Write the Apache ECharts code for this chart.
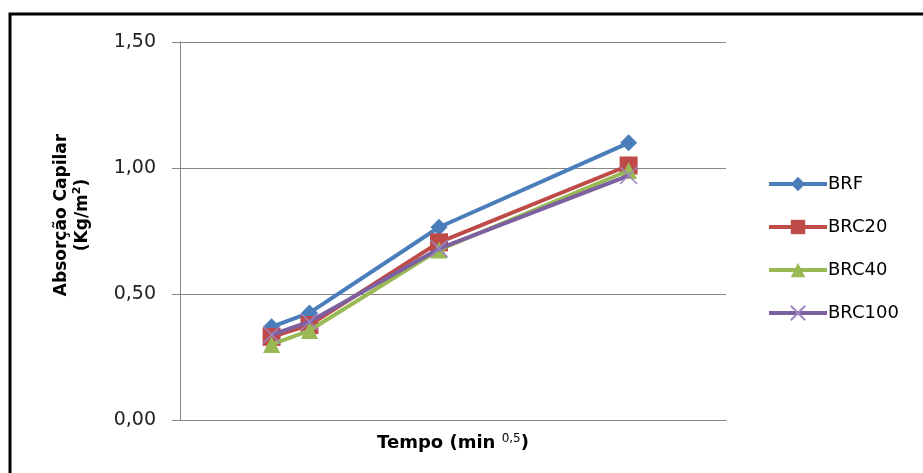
<!DOCTYPE html>
<html><head><meta charset="utf-8">
<script src="https://cdn.jsdelivr.net/npm/echarts@6/dist/echarts.min.js"></script>
<style>html,body{margin:0;padding:0;background:#fff}#c{width:923px;height:473px}</style>
</head><body><div id="c"></div>
<script>
const tempo = [13.42, 18.97, 37.95, 65.73];
const seriesNames = ['BRF', 'BRC20', 'BRC40', 'BRC100'];
const brf = [0.37, 0.425, 0.765, 1.10];
const brc20 = [0.33, 0.377, 0.705, 1.01];
const brc40 = [0.30, 0.355, 0.675, 0.99];
const brc100 = [0.338, 0.39, 0.68, 0.97];
const yTicks = ['0,00', '0,50', '1,00', '1,50'];

const colors = ['#4A7EBB', '#BE4B48', '#98B954', '#7D60A0'];
const symbols = ['diamond', 'rect', 'triangle', 'path://M0,0L10,10M10,0L0,10'];
const symSizes = [17, 18, 17, 17];
const vals = [brf, brc20, brc40, brc100];

const chart = echarts.init(document.getElementById('c'));
const font = 'DejaVu Sans';
chart.setOption({
  animation: false,
  color: colors,
  textStyle: {fontFamily: font},
  grid: {left: 180, right: 197, top: 42, bottom: 53},
  graphic: [{
    type: 'rect', shape: {x: 10, y: 14, width: 1000, height: 1000},
    style: {fill: 'none', stroke: '#000', lineWidth: 3}, silent: true
  }, {
    type: 'text', x: 72, y: 215, rotation: Math.PI / 2, silent: true,
    style: {
      text: '{b|Absorção Capilar}\n{b|(Kg/m}{s|2}{b|)}',
      align: 'center', verticalAlign: 'middle',
      rich: {
        b: {fontSize: 17, fontWeight: 'bold', fill: '#000', fontFamily: font, lineHeight: 21},
        s: {fontSize: 11, fontWeight: 'bold', fill: '#000', fontFamily: font, verticalAlign: 'top', lineHeight: 21}
      }
    }
  }],
  legend: {
    orient: 'vertical', left: 762, top: 170, itemGap: 25, itemWidth: 58, itemHeight: 18,
    data: seriesNames,
    lineStyle: {width: 4},
    textStyle: {fontSize: 18, color: '#000', fontFamily: font, padding: [0, 0, 0, -4]}
  },
  xAxis: {
    type: 'value', min: 0, max: 80,
    axisLine: {show: true, onZero: false, lineStyle: {color: '#868686', width: 1}},
    axisTick: {show: false}, axisLabel: {show: false}, splitLine: {show: false},
    name: '{b|Tempo (min }{s|0,5}{b|)}', nameLocation: 'middle', nameGap: 13,
    nameTextStyle: {
      rich: {
        b: {fontSize: 18, fontWeight: 'bold', color: '#000', fontFamily: font},
        s: {fontSize: 12, color: '#000', fontFamily: font, verticalAlign: 'top', padding: [0, 0, 8, 0]}
      }
    }
  },
  yAxis: {
    type: 'value', min: 0, max: 1.5, interval: 0.5,
    axisLine: {show: true, lineStyle: {color: '#868686', width: 1}},
    axisTick: {show: true, length: 8, lineStyle: {color: '#868686'}},
    splitLine: {show: true, lineStyle: {color: '#868686', width: 1}},
    axisLabel: {
      fontSize: 19, color: '#222', margin: 24, fontFamily: font,
      formatter: function (v) { return yTicks[Math.round(v / 0.5)]; }
    }
  },
  series: seriesNames.map((n, i) => ({
    name: n, type: 'line',
    data: tempo.map((t, j) => [t, vals[i][j]]),
    symbol: symbols[i], symbolSize: symSizes[i],
    lineStyle: {width: 4, color: colors[i]},
    itemStyle: i === 3 ? {color: colors[i], borderColor: '#9C85C0', borderWidth: 1.5} : {color: colors[i]},
    z: 2 + i
  }))
});
</script></body></html>
